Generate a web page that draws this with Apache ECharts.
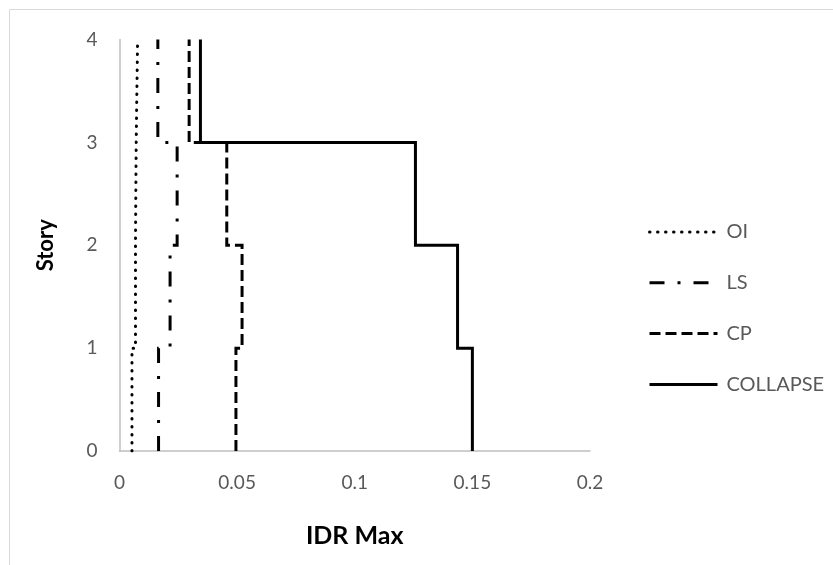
<!DOCTYPE html>
<html><head><meta charset="utf-8">
<script src="https://cdn.jsdelivr.net/npm/echarts@6/dist/echarts.min.js"></script>
<style>html,body{margin:0;padding:0;background:#fff}#c{width:833px;height:565px}</style>
</head><body><div id="c"></div>
<script>
const stories = [0, 1, 2, 3, 4];
const seriesNames = ['OI', 'LS', 'CP', 'COLLAPSE'];
const oi = [0.0053, 0.0068, 0.0071, 0.0077];
const ls = [0.0166, 0.0215, 0.0245, 0.0163];
const cp = [0.0495, 0.0521, 0.0456, 0.0296];
const collapse = [0.1500, 0.1437, 0.1258, 0.0344];
const xTicks = [0, 0.05, 0.1, 0.15, 0.2];
const yTicks = [0, 1, 2, 3, 4];

function steps(vals) {
  const pts = [];
  for (let i = 0; i < vals.length; i++) {
    pts.push([vals[i], stories[i]]);
    pts.push([vals[i], stories[i + 1]]);
  }
  return pts;
}
const dashes = [[0.5, 7.5], [15, 13, 3, 13], [11, 5], 'solid'];
const caps = ['round', 'butt', 'butt', 'butt'];
const values = [oi, ls, cp, collapse];
const FONT = 'Lato, "Liberation Sans", sans-serif';

const chart = echarts.init(document.getElementById('c'), null, {renderer: 'canvas'});
chart.setOption({
  animation: false,
  backgroundColor: '#fff',
  graphic: [{
    type: 'rect', silent: true,
    shape: {x: 9.5, y: 9.5, width: 900, height: 700},
    style: {fill: 'none', stroke: '#d9d9d9', lineWidth: 1}
  }],
  grid: {left: 119.5, right: 243, top: 39.5, bottom: 114, containLabel: false},
  xAxis: {
    type: 'value', min: xTicks[0], max: xTicks[xTicks.length - 1], interval: xTicks[1] - xTicks[0],
    name: 'IDR Max', nameLocation: 'middle', nameGap: 72,
    nameTextStyle: {fontFamily: FONT, fontSize: 25, fontWeight: 'bold', color: '#000'},
    axisLine: {show: true, lineStyle: {color: '#bfbfbf', width: 1.5}},
    axisTick: {show: false},
    splitLine: {show: false},
    axisLabel: {fontFamily: FONT, fontSize: 19, color: '#595959', margin: 22}
  },
  yAxis: {
    type: 'value', min: yTicks[0], max: yTicks[yTicks.length - 1], interval: 1,
    name: 'Story', nameLocation: 'middle', nameGap: 63,
    nameTextStyle: {fontFamily: FONT, fontSize: 22, fontWeight: 'bold', color: '#000'},
    axisLine: {show: true, lineStyle: {color: '#bfbfbf', width: 1.5}},
    axisTick: {show: false},
    splitLine: {show: false},
    axisLabel: {fontFamily: FONT, fontSize: 19, color: '#595959', margin: 22}
  },
  legend: {
    orient: 'vertical', left: 643, top: 217,
    itemWidth: 68, itemHeight: 14, itemGap: 30.8,
    selectedMode: false,
    data: seriesNames,
    itemStyle: {opacity: 0},
    lineStyle: {width: 3, opacity: 1},
    textStyle: {fontFamily: FONT, fontSize: 20, color: '#595959', padding: [0, 0, 0, 4]}
  },
  series: seriesNames.map((n, i) => ({
    name: n, type: 'line', data: steps(values[i]),
    symbol: 'none', showSymbol: false, silent: true,
    lineStyle: {color: '#000', width: 3, type: dashes[i], cap: caps[i], join: 'miter'},
    itemStyle: {color: '#000'}
  }))
});
</script></body></html>
